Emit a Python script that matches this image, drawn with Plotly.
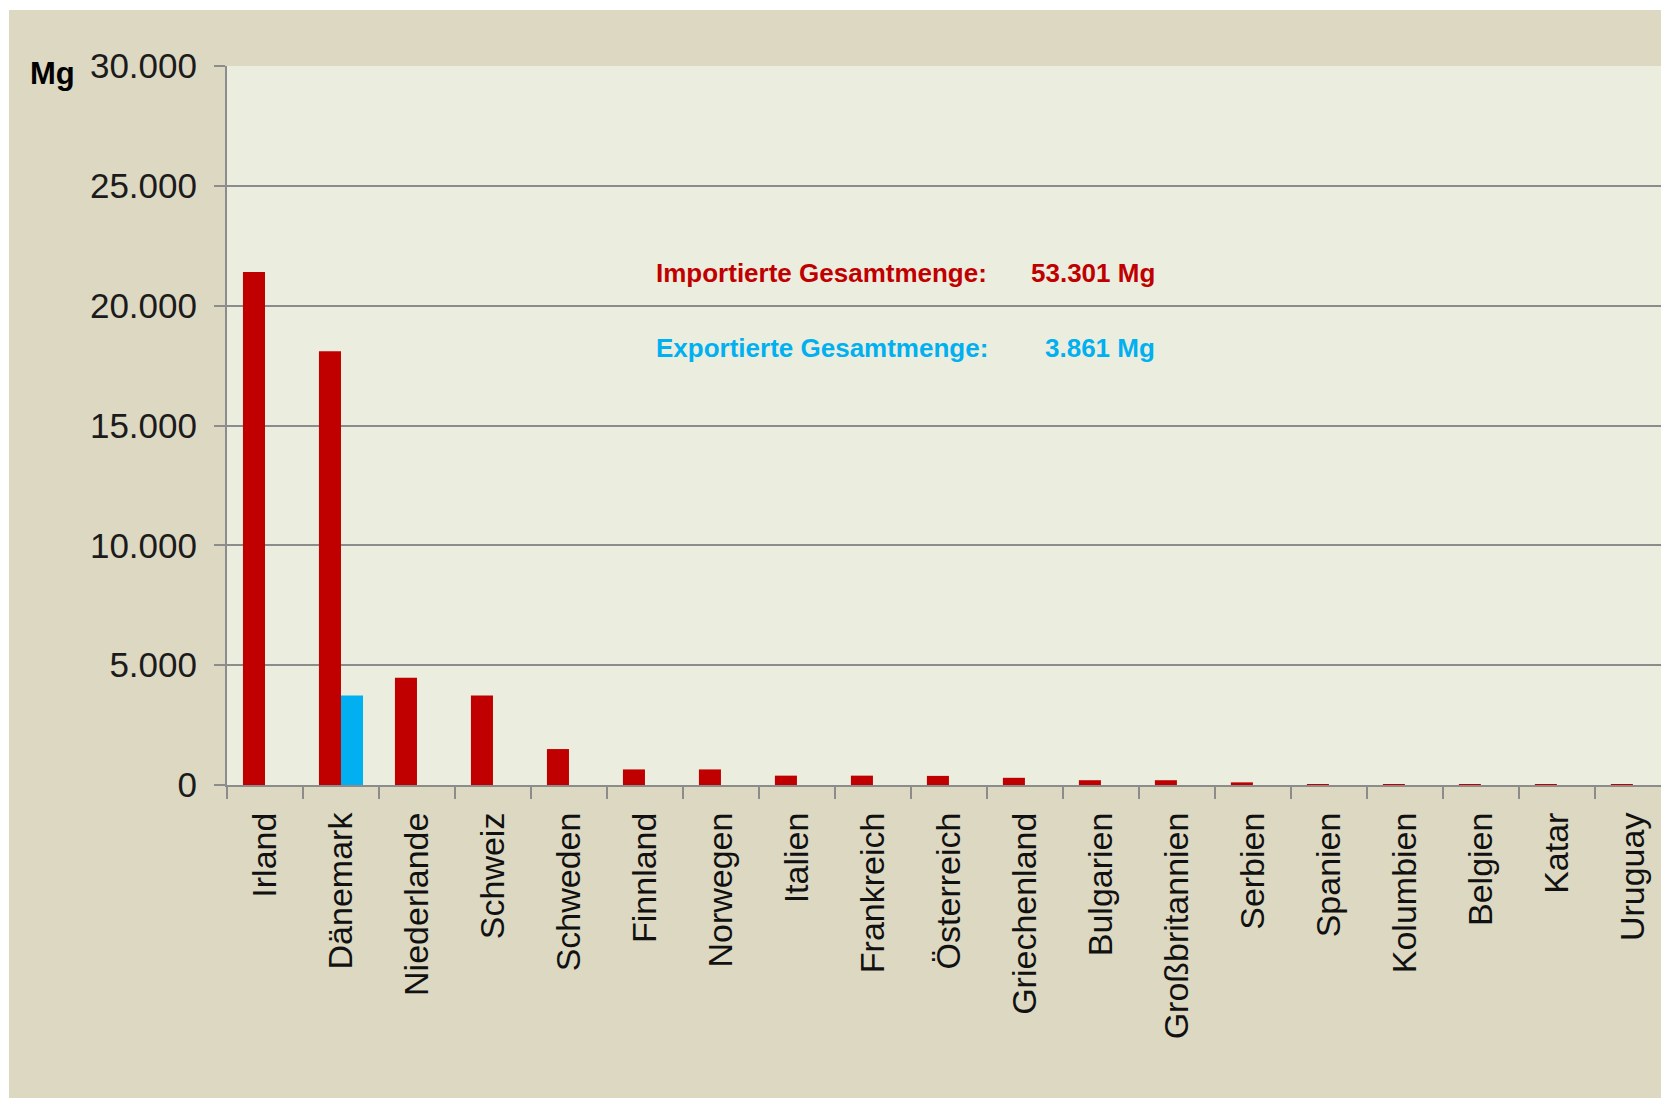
import plotly.graph_objects as go

laender = ["Irland", "Dänemark", "Niederlande", "Schweiz", "Schweden", "Finnland",
           "Norwegen", "Italien", "Frankreich", "Österreich", "Griechenland",
           "Bulgarien", "Großbritannien", "Serbien", "Spanien", "Kolumbien",
           "Belgien", "Katar", "Uruguay"]
import_mg = [21400, 18100, 4480, 3730, 1500, 650, 650, 390, 390, 380, 300,
             200, 200, 110, 4, 3, 2, 1, 1]
export_mg = [0, 3730, 0, 0, 0, 0, 0, 0, 0, 0, 0,
             0, 0, 0, 0, 0, 0, 0, 0]
y_ticks = [0, 5000, 10000, 15000, 20000, 25000, 30000]
import_total = "53.301 Mg"
export_total = "3.861 Mg"

RED = "#C00000"
BLUE = "#00B0F0"
BEIGE = "#DDD8C2"
PLOTBG = "#EBEEDE"
GRID = "#8C8C8C"
SANS = "Liberation Sans, Arial, sans-serif"

fig = go.Figure()
fig.add_trace(go.Bar(x=laender, y=import_mg, name="Import", marker_color=RED,
                     marker_line_width=0))
fig.add_trace(go.Bar(x=laender, y=export_mg, name="Export", marker_color=BLUE,
                     marker_line_width=0))

fig.update_layout(
    width=1652, height=1088,
    margin=dict(l=218, r=0, t=56, b=313, pad=0),
    paper_bgcolor=BEIGE, plot_bgcolor=PLOTBG,
    barmode="group", bargap=0.42, bargroupgap=0,
    showlegend=False,
    separators=",.",
)
fig.update_xaxes(
    type="category", range=[-0.5, 18.37],
    tickson="boundaries", ticks="outside", ticklen=12, tickwidth=2, tickcolor=GRID,
    showgrid=False, showline=True, linecolor=GRID, linewidth=2,
    tickangle=-90, tickfont=dict(family=SANS, size=34, color="#111111"),
    ticklabelstandoff=12,
)
fig.update_yaxes(
    range=[0, 30000], tickvals=y_ticks, tickformat=",d",
    ticks="outside", ticklen=11, tickwidth=2, tickcolor=GRID,
    showgrid=True, gridcolor=GRID, gridwidth=2,
    showline=True, linecolor=GRID, linewidth=2, zeroline=False,
    tickfont=dict(family=SANS, size=35, color="#1b1b1b"),
    ticklabelstandoff=10,
)

annots = [
    dict(text="Importierte Gesamtmenge:", x=0.2978, y=0.7125, xanchor="left", color=RED),
    dict(text=import_total, x=0.6485, y=0.7125, xanchor="right", color=RED),
    dict(text="Exportierte Gesamtmenge:", x=0.2978, y=0.6083, xanchor="left", color=BLUE),
    dict(text=export_total, x=0.6485, y=0.6083, xanchor="right", color=BLUE),
]
for a in annots:
    fig.add_annotation(text="<b>" + a["text"] + "</b>", x=a["x"], y=a["y"],
                       xref="paper", yref="paper", xanchor=a["xanchor"], yanchor="middle",
                       showarrow=False,
                       font=dict(family=SANS, size=26, color=a["color"]))
fig.add_annotation(text="<b>Mg</b>", x=-0.122, y=0.989, xref="paper", yref="paper",
                   xanchor="center", yanchor="middle", showarrow=False,
                   font=dict(family=SANS, size=31, color="#000000"))

fig.write_html("out.html",
               post_script="document.body.style.margin='10px 0 0 9px';"
                           "document.body.style.overflow='hidden';")
